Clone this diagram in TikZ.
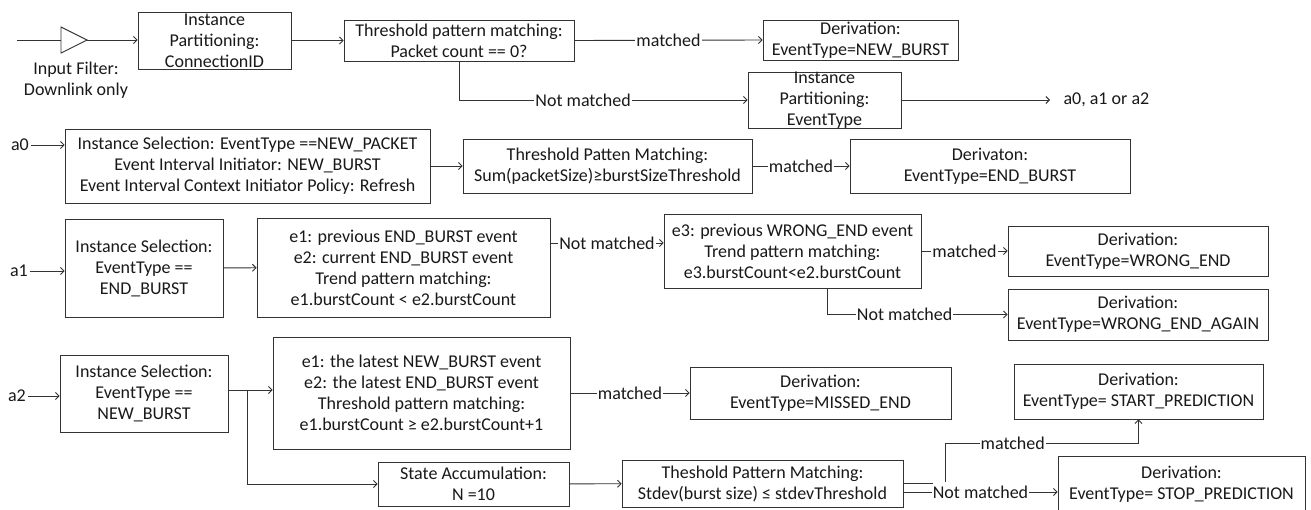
\documentclass[tikz,border=0pt]{standalone}
\usepackage{fontspec}
\setmainfont{Carlito}
\usetikzlibrary{arrows.meta}
\begin{document}
\begin{tikzpicture}[x=1pt,y=-1pt,
  every node/.style={font=\fontsize{18}{21}\selectfont, text=black!90},
  box/.style={draw=black!80, line width=0.9pt, inner sep=0pt, align=center},
  tightbox/.style={box, inner ysep=-3pt},
  lbl/.style={fill=white, inner sep=1pt},
  tag/.style={inner sep=2pt},
  conn/.style={draw=black!80, line width=0.9pt},
  arr/.style={conn, -{Straight Barb[length=3.5pt,width=7pt]}},
]
\clip (0,0) rectangle (1311,509);
\fill[white] (0,0) rectangle (1311,509);

% ---- input filter and connection partitioning
\coordinate (inStart) at (17,40);
\coordinate (fin) at (61,40);
\coordinate (fout) at (87,40);
\draw[conn] (61,27) -- (fout) -- (61,53) -- cycle;
\draw[conn] (inStart) -- (fin);
\node[align=center] (filt) at (76,80.5) {Input Filter:\\Downlink only};

\node[tightbox, minimum width=153pt, minimum height=57pt] (part1) at (214.5,40.5) {Instance\\Partitioning:\\ConnectionID};
\node[box, minimum width=230pt, minimum height=41pt] (thr1) at (459,40.5) {Threshold pattern matching:\\Packet count == 0?};
\node[box, minimum width=195pt, minimum height=40pt] (der1) at (860.5,40) {Derivation:\\EventType=NEW\_BURST};
\node[tightbox, minimum width=153pt, minimum height=56pt] (part2) at (824.5,100) {Instance\\Partitioning:\\EventType};
\node[anchor=west] (aout) at (1060,100) {a0, a1 or a2};

\draw[arr] (fout) -- (fout -| part1.west);
\draw[arr] (part1) -- (thr1);
\draw[arr] (thr1.east) -- node[lbl]{matched} (der1.west);
\draw[arr] (thr1.south) |- node[lbl,pos=0.715]{Not matched} (part2.west);
\draw[arr, shorten >=10pt] (part2.east) -- (aout.west);

% ---- branch a0
\node[tag] (a0) at (20,145) {a0};
\node[box, minimum width=365pt, minimum height=74pt] (sel0) at (247.5,166) {Instance Selection: EventType ==NEW\_PACKET\\Event Interval Initiator: NEW\_BURST\\Event Interval Context Initiator Policy: Refresh};
\node[box, minimum width=289pt, minimum height=54pt] (thr2) at (607.5,166) {Threshold Patten Matching:\\Sum(packetSize)≥burstSizeThreshold};
\node[box, minimum width=280pt, minimum height=54pt] (der2) at (990,166) {Derivaton:\\EventType=END\_BURST};

\draw[arr] (a0) -- (a0 -| sel0.west);
\draw[arr] (sel0) -- (thr2);
\draw[arr] (thr2) -- node[lbl]{matched} (der2);

% ---- branch a1
\node[tag] (a1) at (19,271) {a1};
\node[box, minimum width=158pt, minimum height=98pt] (sel1) at (144,268) {Instance Selection:\\EventType ==\\END\_BURST};
\node[box, minimum width=293pt, minimum height=99pt] (tr1) at (403.5,267.5) {e1: previous END\_BURST event\\e2: current END\_BURST event\\Trend pattern matching:\\e1.burstCount < e2.burstCount};
\node[box, minimum width=257pt, minimum height=74pt] (tr2) at (792.5,251) {e3: previous WRONG\_END event\\Trend pattern matching:\\e3.burstCount<e2.burstCount};
\node[box, minimum width=260pt, minimum height=50pt] (der3) at (1138,251) {Derivation:\\EventType=WRONG\_END};
\node[box, minimum width=260pt, minimum height=51pt] (der4) at (1138,314.5) {Derivation:\\EventType=WRONG\_END\_AGAIN};

\draw[arr] (a1) -- (a1 -| sel1.west);
\draw[arr] (sel1) -- (tr1);
\draw[arr] (tr1.east |- 0,243) -- node[lbl]{Not matched} (tr2.west |- 0,243);
\draw[arr] (tr2) -- node[lbl]{matched} (der3);
\draw[arr] (tr2.south -| 827,0) |- node[lbl,pos=0.715]{Not matched} (der4.west);

% ---- branch a2
\node[tag] (a2) at (17,396) {a2};
\node[box, minimum width=168pt, minimum height=77pt] (sel2) at (144,393.5) {Instance Selection:\\EventType ==\\NEW\_BURST};
\node[box, minimum width=297pt, minimum height=112pt] (thr3) at (421.5,393) {e1: the latest NEW\_BURST event\\e2: the latest END\_BURST event\\Threshold pattern matching:\\e1.burstCount ≥ e2.burstCount+1};
\node[box, minimum width=261pt, minimum height=52pt] (der5) at (820.5,393) {Derivation:\\EventType=MISSED\_END};
\node[box, minimum width=191pt, minimum height=44pt] (acc) at (473.5,484) {State Accumulation:\\N =10};
\node[box, minimum width=281pt, minimum height=47pt] (thr4) at (762.5,483.5) {Theshold Pattern Matching:\\Stdev(burst size) ≤ stdevThreshold};
\node[box, minimum width=249pt, minimum height=55pt] (der6) at (1138.5,391.5) {Derivation:\\EventType= START\_PREDICTION};
\node[box, minimum width=247pt, minimum height=56pt] (der7) at (1181.5,484) {Derivation:\\EventType= STOP\_PREDICTION};

\draw[arr] (a2) -- (a2 -| sel2.west);
\draw[arr] (sel2.east |- 0,390) -- (thr3.west |- 0,390);
\coordinate (br) at (247,390);
\draw[arr] (br) |- (acc.west);
\draw[arr] (thr3) -- node[lbl]{matched} (der5);
\draw[arr] (acc) -- (thr4);
\coordinate (stub) at (933,483);
\draw[conn] (thr4.east |- stub) -- (stub);
\draw[arr] (thr4.east |- 0,492) -- node[lbl]{Not matched} (der7.west |- 0,492);
\coordinate (mb) at (945,482);
\draw[arr] (mb) -- (mb |- 0,443) -| node[lbl,pos=0.175]{matched} (der6.south);
\end{tikzpicture}
\end{document}
